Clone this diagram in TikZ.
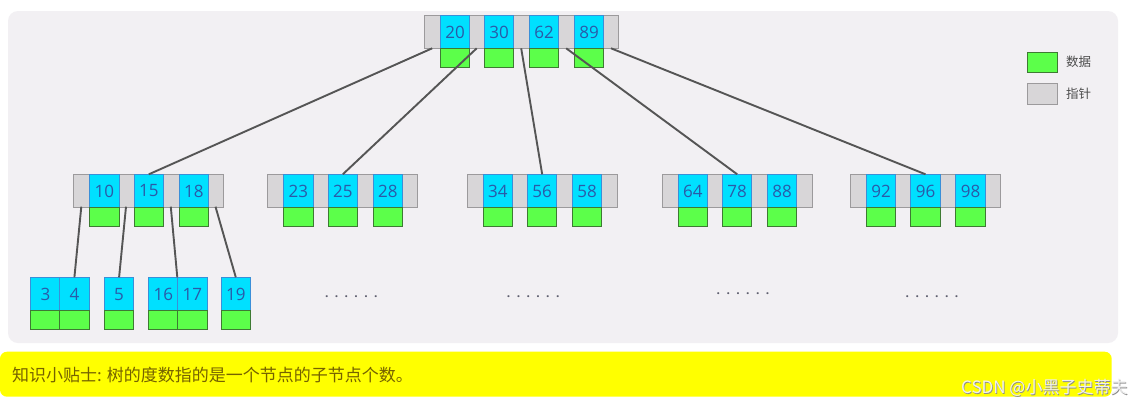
\documentclass[tikz,border=0pt]{standalone}
\usepackage{fontspec}
\setmainfont{Open Sans}
\newfontfamily\cjk{Noto Sans CJK SC}
\definecolor{panelbg}{HTML}{F2F0F3}
\definecolor{ptrfill}{HTML}{D8D6D8}
\definecolor{ptrline}{HTML}{9C9A9C}
\definecolor{keyfill}{HTML}{00E0FF}
\definecolor{keyline}{HTML}{3A8FD8}
\definecolor{keytext}{HTML}{2A5AA8}
\definecolor{datfill}{HTML}{5CFF4A}
\definecolor{datline}{HTML}{3E7A33}
\definecolor{edge}{HTML}{555555}
\definecolor{tipbg}{HTML}{FFFF00}
\definecolor{tiptext}{HTML}{756200}
\definecolor{dotcol}{HTML}{5E5E6E}
\tikzset{
  ptrbox/.style={draw=ptrline, fill=ptrfill, line width=0.9pt, anchor=north west, inner sep=0pt},
  keybox/.style={draw=keyline, fill=keyfill, line width=0.9pt, anchor=north west, inner sep=0pt,
     minimum width=29.3pt, text=keytext, font=\fontsize{17}{18}\selectfont},
  datbox/.style={draw=datline, fill=datfill, line width=0.9pt, anchor=north west, inner sep=0pt,
     minimum width=29.3pt},
  link/.style={draw=edge, line width=1.9pt},
  dotrow/.style={text=dotcol, font=\bfseries\fontsize{12}{13}\selectfont, inner sep=0pt, anchor=base},
  legtext/.style={text=black!70, font=\cjk\fontsize{12.5}{14}\selectfont, anchor=west, inner sep=0pt}
}
\newcommand{\sixdots}{.\hspace{6.4pt}.\hspace{6.4pt}.\hspace{6.4pt}.\hspace{6.4pt}.\hspace{6.4pt}.}
\begin{document}
\begin{tikzpicture}[x=1pt,y=-1pt]
\useasboundingbox (0,0) rectangle (1144,408);
\fill[white] (0,0) rectangle (1144,408);
% panel
\fill[panelbg, rounded corners=10pt] (8,11) rectangle (1118,343);

% root node
\node[ptrbox, minimum width=194pt, minimum height=33.3pt] (root) at (424.3,15) {};
\foreach \x/\k/\i in {440/20/1, 484/30/2, 529/62/3, 574/89/4}{
  \node[keybox, minimum height=33.3pt] (root-k\i) at (\x,15) {\k};
  \node[datbox, minimum height=18.7pt] (root-d\i) at (\x,48.3) {};
}
\foreach \x/\i in {432.2/1, 476.7/2, 521.2/3, 566.2/4, 611/5}{
  \coordinate (root-p\i) at (\x,48.3);
}

% middle level
\foreach \L/\a/\b/\c/\n in {73.3/10/15/18/m1, 267.3/23/25/28/m2, 466.7/34/56/58/m3, 661.7/64/78/88/m4, 850/92/96/98/m5}{
  \node[ptrbox, minimum width=150pt, minimum height=32.4pt] (\n) at (\L,174.3) {};
  \node[keybox, minimum height=32.4pt] (\n-k1) at (\L+16,174.3) {\a};
  \node[keybox, minimum height=32.4pt] (\n-k2) at (\L+60.4,174.3) {\b};
  \node[keybox, minimum height=32.4pt] (\n-k3) at (\L+105.4,174.3) {\c};
  \node[datbox, minimum height=19.3pt] (\n-d1) at (\L+16,206.7) {};
  \node[datbox, minimum height=19.3pt] (\n-d2) at (\L+60.4,206.7) {};
  \node[datbox, minimum height=19.3pt] (\n-d3) at (\L+105.4,206.7) {};
  \coordinate (\n-p1) at (\L+8,206.7);
  \coordinate (\n-p2) at (\L+52.7,206.7);
  \coordinate (\n-p3) at (\L+97.5,206.7);
  \coordinate (\n-p4) at (\L+142.2,206.7);
}

% leaves
\foreach \x/\k in {30.3/3, 59.3/4, 104/5, 148.3/16, 177.3/17, 220.7/19}{
  \node[keybox, minimum height=32.7pt] (leaf\k) at (\x,277.3) {\k};
  \node[datbox, minimum height=19pt] (leafd\k) at (\x,310) {};
}

% dots
\node[dotrow] (dots1) at (351.3,297) {\sixdots};
\node[dotrow] (dots2) at (533.2,297) {\sixdots};
\node[dotrow] (dots3) at (743,294) {\sixdots};
\node[dotrow] (dots4) at (932,297) {\sixdots};

% root links
\draw[link] (root-p1) -- (m1-k2.north);
\draw[link] (root-p2) -- (m2-k2.north);
\draw[link] (root-p3) -- (m3-k2.north);
\draw[link] (root-p4) -- (m4-k2.north);
\draw[link] (root-p5) -- (m5-k2.north);

% m1 links
\draw[link] (m1-p1) -- (leaf4.north);
\draw[link] (m1-p2) -- (leaf5.north);
\draw[link] (m1-p3) -- (leaf17.north west);
\draw[link] (m1-p4) -- (leaf19.north);

% legend
\node[datbox, minimum width=30pt, minimum height=20pt] (legdat) at (1027.3,52.3) {};
\node[ptrbox, minimum width=30pt, minimum height=21pt] (legptr) at (1027.3,82.7) {};
\node[legtext] (legdattext) at (1066,61.5) {数据};
\node[legtext] (legptrtext) at (1066,93.5) {指针};

% tip bar
\fill[tipbg, rounded corners=7pt] (0,351.7) rectangle (1111.7,396.7);
\node[anchor=west, inner sep=0pt, text=tiptext, font=\cjk\fontsize{17}{18}\selectfont] (tip) at (12,375) {知识小贴士: 树的度数指的是一个节点的子节点个数。};

% watermark
\node[anchor=east, inner sep=0pt, text=black!45, font=\cjk\fontsize{17}{18}\selectfont] (wmshadow) at (1128.5,388.8) {CSDN @小黑子史蒂夫};
\node[anchor=east, inner sep=0pt, text=black!6, font=\cjk\fontsize{17}{18}\selectfont] (wm) at (1127.7,388) {CSDN @小黑子史蒂夫};
\end{tikzpicture}
\end{document}
